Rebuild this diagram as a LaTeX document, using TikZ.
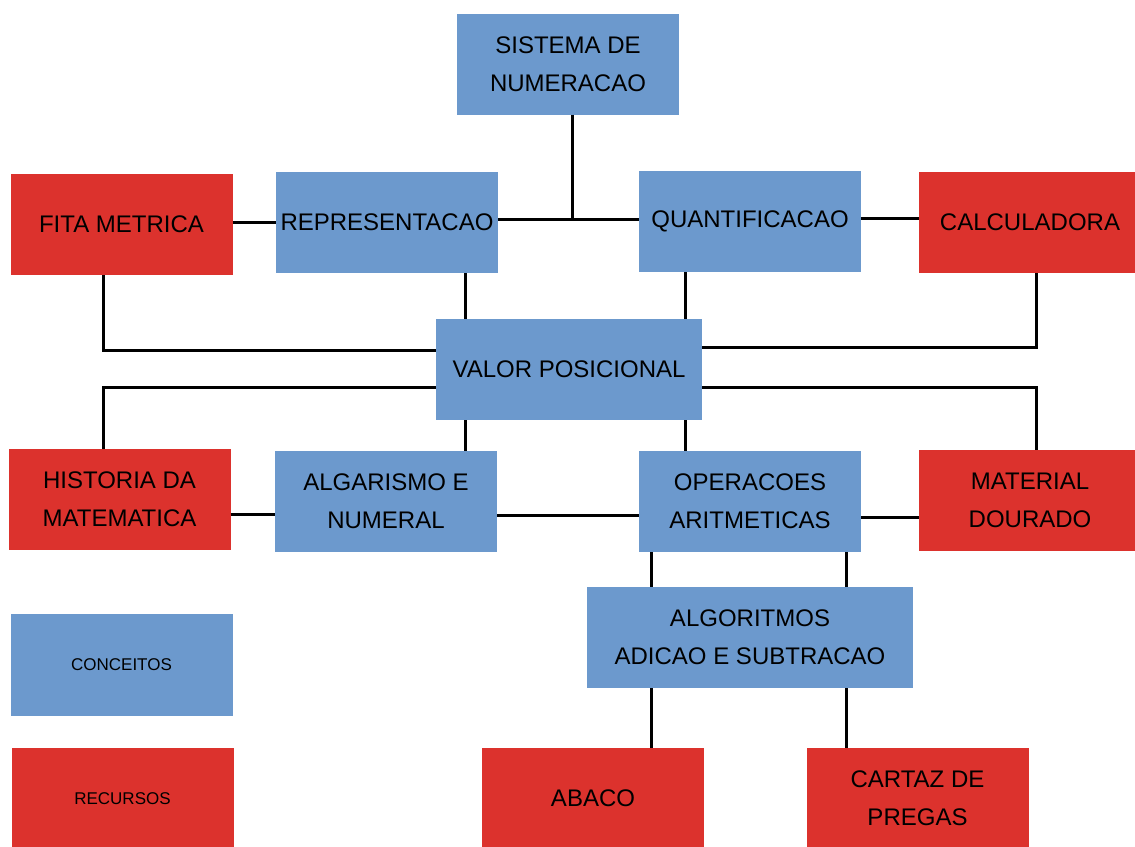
\documentclass[tikz,border=0pt]{standalone}
\usepackage{fontspec}
\setmainfont{Liberation Sans}
\definecolor{cblue}{RGB}{108,153,205}
\definecolor{cred}{RGB}{220,50,45}
\begin{document}
\begin{tikzpicture}[x=1pt,y=-1pt,
  box/.style={minimum width=222pt,minimum height=101pt,inner sep=0pt,align=center,
    font=\fontsize{24}{38}\selectfont,text=black},
  concept/.style={box,fill=cblue},
  resource/.style={box,fill=cred},
  small/.style={font=\fontsize{17}{22}\selectfont},
  link/.style={line width=3pt,black}]
\useasboundingbox (0,0) rectangle (1135,846);
\fill[white] (0,0) rectangle (1135,846);
% nodes
\node[concept] (sis) at (568,64) {SISTEMA DE\\NUMERACAO};
\node[resource] (fita) at (121.5,224.5) {FITA METRICA};
\node[concept] (rep) at (387,222.5) {REPRESENTACAO};
\node[concept] (qua) at (750,221.5) {QUANTIFICACAO};
\node[resource] (calc) at (1030,222.5) {CALCULADORA};
\node[concept,minimum width=266pt] (val) at (569,369.5) {VALOR POSICIONAL};
\node[resource] (hist) at (119.5,499.5) {HISTORIA DA\\MATEMATICA};
\node[concept] (alg) at (386,501.5) {ALGARISMO E\\NUMERAL};
\node[concept] (ops) at (750,501.5) {OPERACOES\\ARITMETICAS};
\node[resource] (mat) at (1030,500.5) {MATERIAL\\DOURADO};
\node[concept,minimum width=326pt] (algo) at (750,637.5) {ALGORITMOS\\ADICAO E SUBTRACAO};
\node[concept,small,minimum height=102pt] (conc) at (121.5,665) {CONCEITOS};
\node[resource,small] (recs) at (122.5,798.5) {RECURSOS};
\node[resource] (abaco) at (593,798.5) {ABACO};
\node[resource] (cartaz) at (917.5,798.5) {CARTAZ DE\\PREGAS};
% helper coordinates
\coordinate (j1) at (572,219);
\coordinate (xL) at (103,0);
\coordinate (xR) at (1036,0);
\coordinate (xa) at (465,0);
\coordinate (xb) at (685,0);
\coordinate (xc) at (651,0);
\coordinate (xd) at (846,0);
% connectors
\draw[link] (j1 |- sis.south) -- (j1);
\draw[link] (rep.east |- j1) -- (qua.west |- j1);
\draw[link] ([yshift=2]fita.east) -- ([yshift=2]fita.east -| rep.west);
\draw[link] ([yshift=3]qua.east) -- ([yshift=3]qua.east -| calc.west);
\draw[link] (fita.south -| xL) |- ([yshift=19]val.west);
\draw[link] (calc.south -| xR) |- ([yshift=22]val.east);
\draw[link] (rep.south -| xa) -- (val.north -| xa);
\draw[link] (qua.south -| xb) -- (val.north -| xb);
\draw[link] ([yshift=-17.5]val.west) -| (hist.north -| xL);
\draw[link] ([yshift=-17.5]val.east) -| (mat.north -| xR);
\draw[link] (val.south -| xa) -- (alg.north -| xa);
\draw[link] (val.south -| xb) -- (ops.north -| xb);
\draw[link] ([yshift=-15]hist.east) -- ([yshift=-15]hist.east -| alg.west);
\draw[link] ([yshift=-13.5]alg.east) -- ([yshift=-13.5]alg.east -| ops.west);
\draw[link] ([yshift=-15.5]ops.east) -- ([yshift=-15.5]ops.east -| mat.west);
\draw[link] (ops.south -| xc) -- (algo.north -| xc);
\draw[link] (ops.south -| xd) -- (algo.north -| xd);
\draw[link] (algo.south -| xc) -- (abaco.north -| xc);
\draw[link] (algo.south -| xd) -- (cartaz.north -| xd);
\end{tikzpicture}
\end{document}
